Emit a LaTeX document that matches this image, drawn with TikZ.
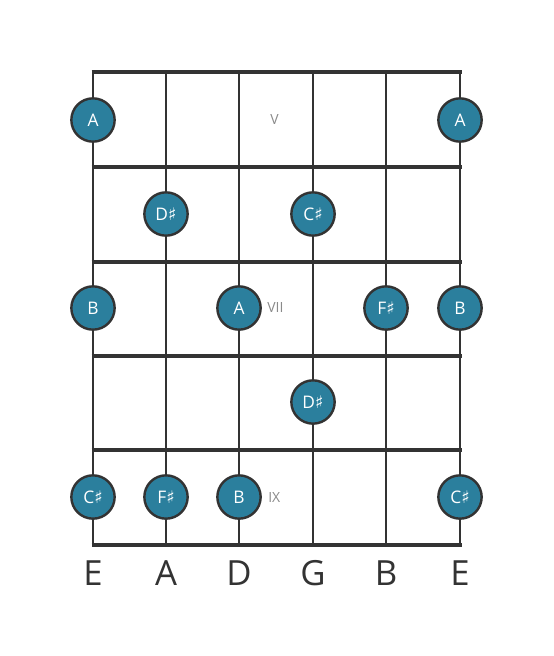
\documentclass[tikz,border=0pt]{standalone}
\usepackage{fontspec}
\setmainfont{Open Sans}
\newfontfamily\symfont{DejaVu Sans}
\definecolor{notefill}{HTML}{2B7F9D}
\definecolor{fretline}{HTML}{333333}
\definecolor{numgray}{HTML}{8A8A8A}
\newcommand{\shp}{{\symfont\char"266F}}
\tikzset{
  note/.style={circle, draw=fretline, line width=1.8pt, fill=notefill, minimum size=32.5pt, inner sep=0pt, text=white, font=\fontsize{13}{13}\selectfont},
  fretnum/.style={text=numgray, anchor=west, inner sep=0pt, font=\fontsize{10.5}{10.5}\selectfont},
  strname/.style={text=fretline, font=\fontsize{26}{26}\selectfont}
}
\begin{document}
\begin{tikzpicture}[x=0.75pt, y=-0.75pt]
                          \useasboundingbox (0,0) rectangle (553,656);
                          \draw[fretline, line width=2.2pt] (93,72) -- (93,545);
                          \draw[fretline, line width=2.2pt] (166,72) -- (166,545);
                          \draw[fretline, line width=2.2pt] (239,72) -- (239,545);
                          \draw[fretline, line width=2.2pt] (313,72) -- (313,545);
                          \draw[fretline, line width=2.2pt] (386,72) -- (386,545);
                          \draw[fretline, line width=2.2pt] (460,72) -- (460,545);
                          \draw[fretline, line width=3.6pt] (91.5,72) -- (461.5,72);
                          \draw[fretline, line width=3.6pt] (91.5,167) -- (461.5,167);
                          \draw[fretline, line width=3.6pt] (91.5,262) -- (461.5,262);
                          \draw[fretline, line width=3.6pt] (91.5,356) -- (461.5,356);
                          \draw[fretline, line width=3.6pt] (91.5,450) -- (461.5,450);
                          \draw[fretline, line width=3.6pt] (91.5,545) -- (461.5,545);
                          \node[fretnum] (numV) at (270,120) {V};
                          \node[fretnum] (numVII) at (267,308) {VII};
                          \node[fretnum] (numIX) at (268,497) {IX};
                          \node[note] (a1) at (93,120) {A};
                          \node[note] (a6) at (460,120) {A};
                          \node[note] (b2) at (166,214) {D\shp};
                          \node[note] (b4) at (313,214) {C\shp};
                          \node[note] (c1) at (93,308) {B};
                          \node[note] (c3) at (239,308) {A};
                          \node[note] (c5) at (386,308) {F\shp};
                          \node[note] (c6) at (460,308) {B};
                          \node[note] (d4) at (313,402) {D\shp};
                          \node[note] (e1) at (93,497) {C\shp};
                          \node[note] (e2) at (166,497) {F\shp};
                          \node[note] (e3) at (239,497) {B};
                          \node[note] (e6) at (460,497) {C\shp};
                          \node[strname] (s1) at (93,573) {E};
                          \node[strname] (s2) at (166,573) {A};
                          \node[strname] (s3) at (239,573) {D};
                          \node[strname] (s4) at (313,573) {G};
                          \node[strname] (s5) at (386,573) {B};
                          \node[strname] (s6) at (460,573) {E};
                      \end{tikzpicture}
\end{document}
